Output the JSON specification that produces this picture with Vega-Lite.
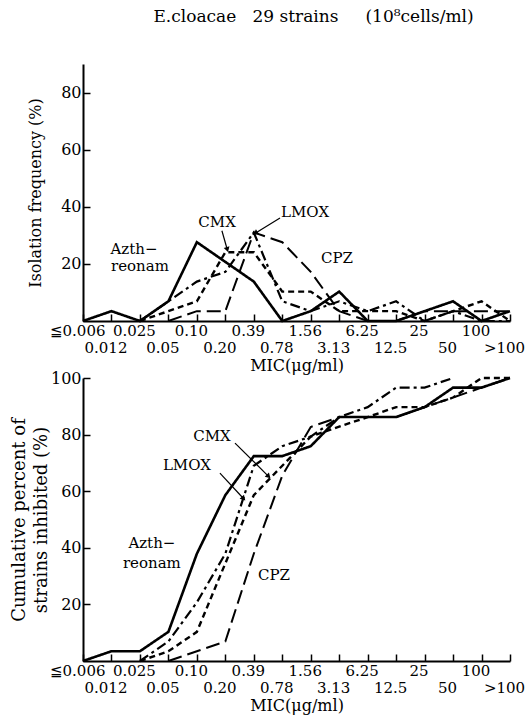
{
  "$schema": "https://vega.github.io/schema/vega-lite/v6.json",
  "background": "white",
  "padding": {"left": 10, "top": 8, "right": 2, "bottom": 2},
  "title": {"text": "E.cloacae\u00a0\u00a0\u00a029 strains\u00a0\u00a0\u00a0\u00a0\u00a0(10⁸cells/ml)", "font": "DejaVu Serif", "fontSize": 17, "fontWeight": "normal", "color": "black", "anchor": "middle", "offset": 38, "dx": 46},
  "config": {
    "view": {"stroke": null},
    "font": "DejaVu Serif",
    "axis": {"labelFont": "DejaVu Serif", "labelFontSize": 15, "labelColor": "black", "titleFont": "DejaVu Serif", "titleFontSize": 16, "titleFontWeight": "normal", "titleColor": "black", "domainColor": "black", "domainWidth": 2, "tickColor": "black", "tickWidth": 1.5, "tickSize": -7, "labelPadding": 9, "grid": false}
  },
  "bounds": "flush",
  "spacing": 57,
  "datasets": {
    "freq": [
      {"drug": "Azthreonam", "i": 0, "pct": 0}, {"drug": "Azthreonam", "i": 1, "pct": 3.45}, {"drug": "Azthreonam", "i": 2, "pct": 0}, {"drug": "Azthreonam", "i": 3, "pct": 6.9},
      {"drug": "Azthreonam", "i": 4, "pct": 27.6}, {"drug": "Azthreonam", "i": 5, "pct": 20.7}, {"drug": "Azthreonam", "i": 6, "pct": 13.8}, {"drug": "Azthreonam", "i": 7, "pct": 0},
      {"drug": "Azthreonam", "i": 8, "pct": 3.45}, {"drug": "Azthreonam", "i": 9, "pct": 10.3}, {"drug": "Azthreonam", "i": 10, "pct": 0}, {"drug": "Azthreonam", "i": 11, "pct": 0},
      {"drug": "Azthreonam", "i": 12, "pct": 3.45}, {"drug": "Azthreonam", "i": 13, "pct": 6.9}, {"drug": "Azthreonam", "i": 14, "pct": 0}, {"drug": "Azthreonam", "i": 15, "pct": 3.45},
      {"drug": "CMX", "i": 2, "pct": 0}, {"drug": "CMX", "i": 3, "pct": 3.45}, {"drug": "CMX", "i": 4, "pct": 6.9}, {"drug": "CMX", "i": 5, "pct": 24.1},
      {"drug": "CMX", "i": 6, "pct": 24.1}, {"drug": "CMX", "i": 7, "pct": 10.3}, {"drug": "CMX", "i": 8, "pct": 10.3}, {"drug": "CMX", "i": 9, "pct": 3.45},
      {"drug": "CMX", "i": 10, "pct": 3.45}, {"drug": "CMX", "i": 11, "pct": 3.45}, {"drug": "CMX", "i": 12, "pct": 0}, {"drug": "CMX", "i": 13, "pct": 3.45},
      {"drug": "CMX", "i": 14, "pct": 6.9}, {"drug": "CMX", "i": 15, "pct": 0},
      {"drug": "LMOX", "i": 2, "pct": 0}, {"drug": "LMOX", "i": 3, "pct": 6.9}, {"drug": "LMOX", "i": 4, "pct": 13.8}, {"drug": "LMOX", "i": 5, "pct": 17.2},
      {"drug": "LMOX", "i": 6, "pct": 31.0}, {"drug": "LMOX", "i": 7, "pct": 6.9}, {"drug": "LMOX", "i": 8, "pct": 3.45}, {"drug": "LMOX", "i": 9, "pct": 6.9},
      {"drug": "LMOX", "i": 10, "pct": 3.45}, {"drug": "LMOX", "i": 11, "pct": 6.9}, {"drug": "LMOX", "i": 12, "pct": 0}, {"drug": "LMOX", "i": 13, "pct": 3.45},
      {"drug": "LMOX", "i": 14, "pct": 0}, {"drug": "LMOX", "i": 15, "pct": 0},
      {"drug": "CPZ", "i": 3, "pct": 0}, {"drug": "CPZ", "i": 4, "pct": 3.45}, {"drug": "CPZ", "i": 5, "pct": 3.45}, {"drug": "CPZ", "i": 6, "pct": 31.0},
      {"drug": "CPZ", "i": 7, "pct": 27.6}, {"drug": "CPZ", "i": 8, "pct": 17.2}, {"drug": "CPZ", "i": 9, "pct": 3.45}, {"drug": "CPZ", "i": 10, "pct": 0},
      {"drug": "CPZ", "i": 11, "pct": 0}, {"drug": "CPZ", "i": 12, "pct": 3.45}, {"drug": "CPZ", "i": 13, "pct": 3.45}, {"drug": "CPZ", "i": 14, "pct": 3.45},
      {"drug": "CPZ", "i": 15, "pct": 3.45}
    ],
    "cum": [
      {"drug": "Azthreonam", "i": 0, "pct": 0}, {"drug": "Azthreonam", "i": 1, "pct": 3.45}, {"drug": "Azthreonam", "i": 2, "pct": 3.45}, {"drug": "Azthreonam", "i": 3, "pct": 10.3},
      {"drug": "Azthreonam", "i": 4, "pct": 37.9}, {"drug": "Azthreonam", "i": 5, "pct": 58.6}, {"drug": "Azthreonam", "i": 6, "pct": 72.4}, {"drug": "Azthreonam", "i": 7, "pct": 72.4},
      {"drug": "Azthreonam", "i": 8, "pct": 75.9}, {"drug": "Azthreonam", "i": 9, "pct": 86.2}, {"drug": "Azthreonam", "i": 10, "pct": 86.2}, {"drug": "Azthreonam", "i": 11, "pct": 86.2},
      {"drug": "Azthreonam", "i": 12, "pct": 89.7}, {"drug": "Azthreonam", "i": 13, "pct": 96.6}, {"drug": "Azthreonam", "i": 14, "pct": 96.6}, {"drug": "Azthreonam", "i": 15, "pct": 100},
      {"drug": "CMX", "i": 2, "pct": 0}, {"drug": "CMX", "i": 3, "pct": 3.45}, {"drug": "CMX", "i": 4, "pct": 10.3}, {"drug": "CMX", "i": 5, "pct": 34.5},
      {"drug": "CMX", "i": 6, "pct": 58.6}, {"drug": "CMX", "i": 7, "pct": 69.0}, {"drug": "CMX", "i": 8, "pct": 79.3}, {"drug": "CMX", "i": 9, "pct": 82.8},
      {"drug": "CMX", "i": 10, "pct": 86.2}, {"drug": "CMX", "i": 11, "pct": 89.7}, {"drug": "CMX", "i": 12, "pct": 89.7}, {"drug": "CMX", "i": 13, "pct": 93.1},
      {"drug": "CMX", "i": 14, "pct": 100}, {"drug": "CMX", "i": 15, "pct": 100},
      {"drug": "LMOX", "i": 2, "pct": 0}, {"drug": "LMOX", "i": 3, "pct": 6.9}, {"drug": "LMOX", "i": 4, "pct": 20.7}, {"drug": "LMOX", "i": 5, "pct": 37.9},
      {"drug": "LMOX", "i": 6, "pct": 69.0}, {"drug": "LMOX", "i": 7, "pct": 75.9}, {"drug": "LMOX", "i": 8, "pct": 79.3}, {"drug": "LMOX", "i": 9, "pct": 86.2},
      {"drug": "LMOX", "i": 10, "pct": 89.7}, {"drug": "LMOX", "i": 11, "pct": 96.6}, {"drug": "LMOX", "i": 12, "pct": 96.6}, {"drug": "LMOX", "i": 13, "pct": 100},
      {"drug": "CPZ", "i": 3, "pct": 0}, {"drug": "CPZ", "i": 4, "pct": 3.45}, {"drug": "CPZ", "i": 5, "pct": 6.9}, {"drug": "CPZ", "i": 6, "pct": 37.9},
      {"drug": "CPZ", "i": 7, "pct": 65.5}, {"drug": "CPZ", "i": 8, "pct": 82.7}, {"drug": "CPZ", "i": 9, "pct": 86.2}, {"drug": "CPZ", "i": 10, "pct": 86.2},
      {"drug": "CPZ", "i": 11, "pct": 86.2}, {"drug": "CPZ", "i": 12, "pct": 89.7}, {"drug": "CPZ", "i": 13, "pct": 93.1}, {"drug": "CPZ", "i": 14, "pct": 96.6},
      {"drug": "CPZ", "i": 15, "pct": 100}
    ],
    "notesTop": [
      {"t": "CMX", "x": 4.71, "y": 34.7}, {"t": "LMOX", "x": 7.8, "y": 38.2}, {"t": "CPZ", "x": 8.92, "y": 22.1},
      {"t": "Azth−", "x": 1.79, "y": 25.2}, {"t": "reonam", "x": 2.0, "y": 19.3}
    ],
    "arrowsTop": [
      {"lab": "CMX", "x": 4.88, "y": 31.6, "x2": 5.06, "y2": 25.3},
      {"lab": "LMOX", "x": 6.92, "y": 36.1, "x2": 6.08, "y2": 30.9}
    ],
    "notesBottom": [
      {"t": "CMX", "x": 4.53, "y": 79.5}, {"t": "LMOX", "x": 3.65, "y": 69.3}, {"t": "Azth−", "x": 2.42, "y": 41.6},
      {"t": "reonam", "x": 2.42, "y": 34.6}, {"t": "CPZ", "x": 6.71, "y": 30.4}
    ],
    "arrowsBottom": [
      {"lab": "CMX", "x": 5.34, "y": 77.0, "x2": 6.5, "y2": 65.4},
      {"lab": "LMOX", "x": 4.81, "y": 66.4, "x2": 5.62, "y2": 57.6}
    ]
  },
  "vconcat": [
    {
      "width": 427,
      "height": 257,
      "encoding": {
        "x": {"type": "quantitative", "title": "MIC(μg/ml)", "scale": {"domain": [0, 15], "nice": false, "zero": false},
          "axis": {"values": [0,1,2,3,4,5,6,7,8,9,10,11,12,13,14,15], "labelFlush": false, "labelOverlap": false, "labelBound": false, "labelOffset": -6, "labelLineHeight": 17, "titlePadding": 2,
            "labelExpr": "datum.value % 2 == 0 ? ['≦0.006','0.012','0.025','0.05','0.10','0.20','0.39','0.78','1.56','3.13','6.25','12.5','25','50','100','>100'][datum.value] : ['', ['≦0.006','0.012','0.025','0.05','0.10','0.20','0.39','0.78','1.56','3.13','6.25','12.5','25','50','100','>100'][datum.value]]"}},
        "y": {"type": "quantitative", "title": "Isolation frequency (%)", "scale": {"domain": [0, 90], "nice": false},
          "axis": {"values": [20, 40, 60, 80], "titlePadding": 17, "labelFontSize": 16}}
      },
      "layer": [
        {
          "data": {"name": "freq"},
          "mark": {"type": "line", "color": "black"},
          "encoding": {
            "x": {"field": "i"},
            "y": {"field": "pct"},
            "strokeDash": {"field": "drug", "type": "nominal", "scale": {"domain": ["Azthreonam", "CMX", "LMOX", "CPZ"], "range": [[1, 0], [6, 4], [10, 4, 3, 4], [14, 6]]}, "legend": null},
            "strokeWidth": {"field": "drug", "type": "nominal", "scale": {"domain": ["Azthreonam", "CMX", "LMOX", "CPZ"], "range": [2.6, 2, 2, 2]}, "legend": null}
          }
        },
        {
          "data": {"name": "notesTop"},
          "mark": {"type": "text", "font": "DejaVu Serif", "fontSize": 15, "color": "black"},
          "encoding": {"x": {"field": "x"}, "y": {"field": "y"}, "text": {"field": "t"}}
        },
        {
          "data": {"name": "arrowsTop"},
          "mark": {"type": "rule", "color": "black", "strokeWidth": 1.2},
          "encoding": {"x": {"field": "x"}, "y": {"field": "y"}, "x2": {"field": "x2"}, "y2": {"field": "y2"}}
        },
        {
          "data": {"name": "arrowsTop"},
          "transform": [{"filter": "datum.lab == 'CMX'"}],
          "mark": {"type": "point", "shape": "triangle", "filled": true, "color": "black", "size": 35, "angle": 164, "opacity": 1},
          "encoding": {"x": {"field": "x2"}, "y": {"field": "y2"}}
        },
        {
          "data": {"name": "arrowsTop"},
          "transform": [{"filter": "datum.lab == 'LMOX'"}],
          "mark": {"type": "point", "shape": "triangle", "filled": true, "color": "black", "size": 35, "angle": 238, "opacity": 1},
          "encoding": {"x": {"field": "x2"}, "y": {"field": "y2"}}
        }
      ]
    },
    {
      "width": 427,
      "height": 283,
      "encoding": {
        "x": {"type": "quantitative", "title": "MIC(μg/ml)", "scale": {"domain": [0, 15], "nice": false, "zero": false},
          "axis": {"values": [0,1,2,3,4,5,6,7,8,9,10,11,12,13,14,15], "labelFlush": false, "labelOverlap": false, "labelBound": false, "labelOffset": -6, "labelLineHeight": 17, "titlePadding": 2,
            "labelExpr": "datum.value % 2 == 0 ? ['≦0.006','0.012','0.025','0.05','0.10','0.20','0.39','0.78','1.56','3.13','6.25','12.5','25','50','100','>100'][datum.value] : ['', ['≦0.006','0.012','0.025','0.05','0.10','0.20','0.39','0.78','1.56','3.13','6.25','12.5','25','50','100','>100'][datum.value]]"}},
        "y": {"type": "quantitative", "title": ["Cumulative percent of", "strains inhibited (%)"], "scale": {"domain": [0, 100], "nice": false},
          "axis": {"values": [20, 40, 60, 80, 100], "titlePadding": 0, "titleFontSize": 18, "titleLineHeight": 22, "labelFontSize": 16}}
      },
      "layer": [
        {
          "data": {"name": "cum"},
          "mark": {"type": "line", "color": "black"},
          "encoding": {
            "x": {"field": "i"},
            "y": {"field": "pct"},
            "strokeDash": {"field": "drug", "type": "nominal", "scale": {"domain": ["Azthreonam", "CMX", "LMOX", "CPZ"], "range": [[1, 0], [6, 4], [10, 4, 3, 4], [14, 6]]}, "legend": null},
            "strokeWidth": {"field": "drug", "type": "nominal", "scale": {"domain": ["Azthreonam", "CMX", "LMOX", "CPZ"], "range": [2.6, 2, 2, 2]}, "legend": null}
          }
        },
        {
          "data": {"name": "notesBottom"},
          "mark": {"type": "text", "font": "DejaVu Serif", "fontSize": 15, "color": "black"},
          "encoding": {"x": {"field": "x"}, "y": {"field": "y"}, "text": {"field": "t"}}
        },
        {
          "data": {"name": "arrowsBottom"},
          "mark": {"type": "rule", "color": "black", "strokeWidth": 1.2},
          "encoding": {"x": {"field": "x"}, "y": {"field": "y"}, "x2": {"field": "x2"}, "y2": {"field": "y2"}}
        },
        {
          "data": {"name": "arrowsBottom"},
          "transform": [{"filter": "datum.lab == 'CMX'"}],
          "mark": {"type": "point", "shape": "triangle", "filled": true, "color": "black", "size": 35, "angle": 135, "opacity": 1},
          "encoding": {"x": {"field": "x2"}, "y": {"field": "y2"}}
        },
        {
          "data": {"name": "arrowsBottom"},
          "transform": [{"filter": "datum.lab == 'LMOX'"}],
          "mark": {"type": "point", "shape": "triangle", "filled": true, "color": "black", "size": 35, "angle": 137, "opacity": 1},
          "encoding": {"x": {"field": "x2"}, "y": {"field": "y2"}}
        }
      ]
    }
  ]
}
